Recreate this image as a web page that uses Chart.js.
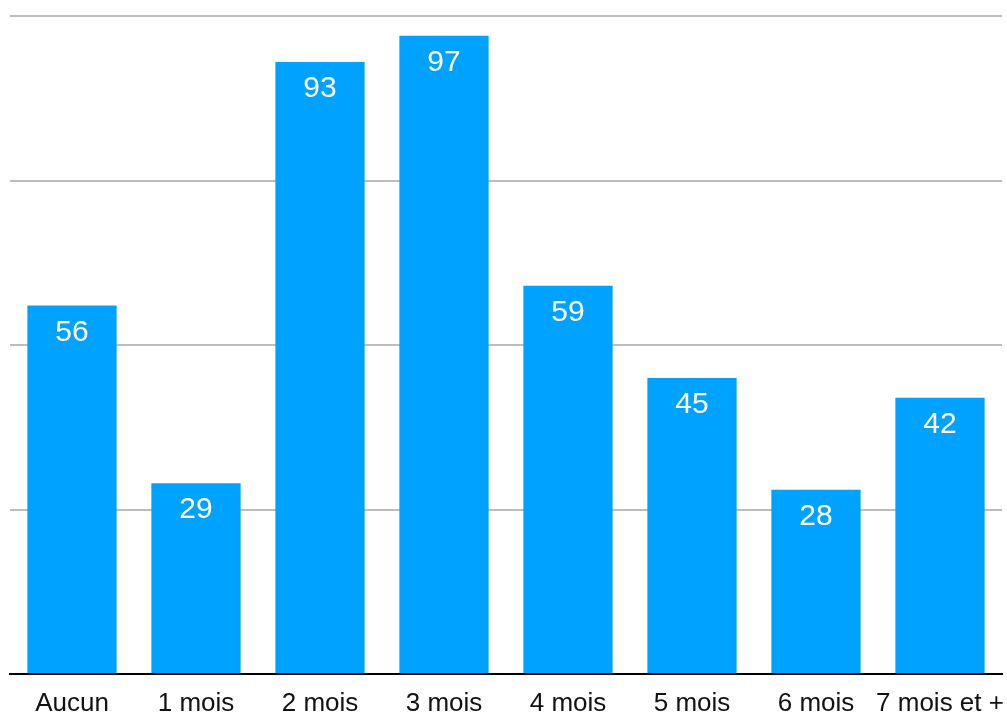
<!DOCTYPE html>
<html>
<head>
<meta charset="utf-8">
<script src="https://cdn.jsdelivr.net/npm/chart.js@4"></script>
<style>
    html, body { margin: 0; padding: 0; background: #ffffff; }
    #grafico { width: 1007px; height: 715px; }
</style>
</head>
<body>
<div id="grafico"><canvas id="graficoDurée"></canvas></div>
<script>
// données du graphique
var categorias = ['Aucun', '1 mois', '2 mois', '3 mois', '4 mois', '5 mois', '6 mois', '7 mois et +'];
var valores = [56, 29, 93, 97, 59, 45, 28, 42];
var ticksY = [0, 25, 50, 75, 100];

// étiquettes blanches en haut des barres
var rotulosBarras = {
    id: 'rotulosBarras',
    afterDatasetsDraw: function (chart) {
        var ctx = chart.ctx;
        var meta = chart.getDatasetMeta(0);
        ctx.save();
        ctx.fillStyle = '#ffffff';
        ctx.font = '30px "Liberation Sans", Arial, sans-serif';
        ctx.textAlign = 'center';
        ctx.textBaseline = 'middle';
        meta.data.forEach(function (barra, i) {
            ctx.fillText(String(valores[i]), barra.x, barra.y + 27);
        });
        ctx.restore();
    }
};

var ctx = document.getElementById('graficoDurée').getContext('2d');
new Chart(ctx, {
    type: 'bar',
    data: {
        labels: categorias,
        datasets: [{
            data: valores,
            backgroundColor: '#00a2ff',
            borderWidth: 0,
            categoryPercentage: 0.72,
            barPercentage: 1
        }]
    },
    options: {
        responsive: true,
        maintainAspectRatio: false,
        animation: false,
        layout: {
            padding: { left: 10, right: 5, top: 16, bottom: 0 }
        },
        plugins: {
            legend: { display: false },
            tooltip: { enabled: false }
        },
        scales: {
            x: {
                z: 1,
                afterFit: function (scale) {
                    // les étiquettes débordent, comme dans l'original
                    scale.height = 41;
                    scale.paddingLeft = 0;
                    scale.paddingRight = 0;
                },
                grid: { display: false, drawTicks: false },
                border: { display: true, color: '#000000', width: 2 },
                ticks: {
                    color: '#111111',
                    padding: 14,
                    maxRotation: 0,
                    autoSkip: false,
                    font: { family: '"Liberation Sans", Arial, sans-serif', size: 26, lineHeight: 1.2 }
                }
            },
            y: {
                min: 0,
                max: 100,
                afterBuildTicks: function (scale) {
                    scale.ticks = ticksY.map(function (v) { return { value: v }; });
                },
                ticks: { display: false },
                border: { display: false },
                grid: {
                    drawTicks: false,
                    lineWidth: 2,
                    color: function (c) {
                        return c.tick && c.tick.value === 0 ? 'rgba(0,0,0,0)' : '#bdbdbd';
                    }
                }
            }
        }
    },
    plugins: [rotulosBarras]
});
</script>
</body>
</html>
